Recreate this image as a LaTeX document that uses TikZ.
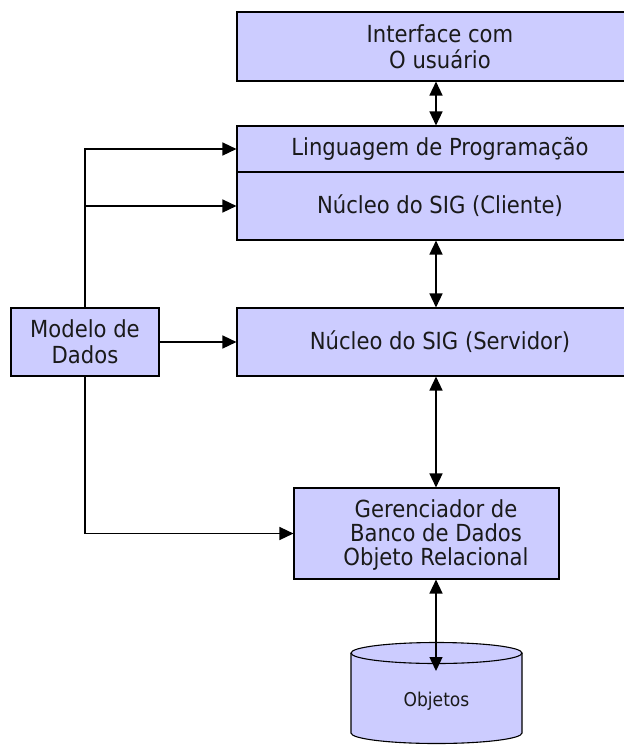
\documentclass[tikz,border=0pt]{standalone}
\usepackage{fontspec}
\setmainfont{DejaVu Sans Condensed}
\usetikzlibrary{arrows.meta}
\definecolor{boxfill}{HTML}{CCCCFF}
\definecolor{txt}{HTML}{1A1A1A}
\begin{document}
\begin{tikzpicture}[x=1pt,y=1pt,
  box/.style={draw=black, fill=boxfill, line width=1.1pt, inner sep=0pt, align=center, text=txt,
              font=\fontsize{23.5}{26}\selectfont},
  lbl/.style={inner sep=0pt, align=center, text=txt, font=\fontsize{23.5}{24}\selectfont},
  conn/.style={line width=1.4pt, draw=black},
  arr/.style={conn, -{Triangle[length=14pt,width=13pt]}},
  darr/.style={conn, {Triangle[length=14pt,width=13pt]}-{Triangle[length=14pt,width=13pt]}}]
\useasboundingbox (0,0) rectangle (624,-745);
\clip (0,0) rectangle (624,-745);

% boxes
\node[box, minimum width=406pt, minimum height=69pt] (ui) at (440,-46.5) {Interface com\\O usuário};
\node[box, minimum width=406pt, minimum height=46pt] (lang) at (440,-149) {Linguagem de Programação};
\node[box, minimum width=406pt, minimum height=68pt] (cli) at (440,-206) {Núcleo do SIG (Cliente)};
\node[box, minimum width=406pt, minimum height=68pt] (serv) at (440,-342) {Núcleo do SIG (Servidor)};
\node[box, minimum width=265pt, minimum height=91pt] (ger) at (426.5,-533.5) {};
\node[lbl] (gertxt) at (436,-535) {Gerenciador de\\Banco de Dados\\Objeto Relacional};
\node[box, minimum width=148pt, minimum height=68pt] (mod) at (85,-342) {Modelo de\\Dados};

% cylinder
\fill[boxfill] (351,-653) -- (351,-733)
  arc[start angle=180, end angle=360, x radius=85.5, y radius=10.5]
  -- (522,-653) arc[start angle=0, end angle=180, x radius=85.5, y radius=10.5] -- cycle;
\draw[line width=1.1pt] (351,-653) -- (351,-733)
  arc[start angle=180, end angle=360, x radius=85.5, y radius=10.5] -- (522,-653);
\draw[line width=1.1pt] (436.5,-653) ellipse [x radius=85.5, y radius=10.5];
\node[inner sep=0pt, text=txt, font=\fontsize{19}{21}\selectfont] (obj) at (436.5,-701) {Objetos};

\coordinate (axis) at (436,0);
\coordinate (cyltip) at (436,-671);

% connectors
\draw[darr] (ui.south -| axis) -- (lang.north -| axis);
\draw[darr] (cli.south -| axis) -- (serv.north -| axis);
\draw[darr] (serv.south -| axis) -- (ger.north -| axis);
\draw[darr] (ger.south -| axis) -- (cyltip);

\draw[arr] (mod.north) |- (lang.west);
\draw[arr] (mod.north) |- (cli.west);
\draw[arr] (mod.east) -- (serv.west);
\draw[arr] (mod.south) |- (ger.west);
\end{tikzpicture}
\end{document}
